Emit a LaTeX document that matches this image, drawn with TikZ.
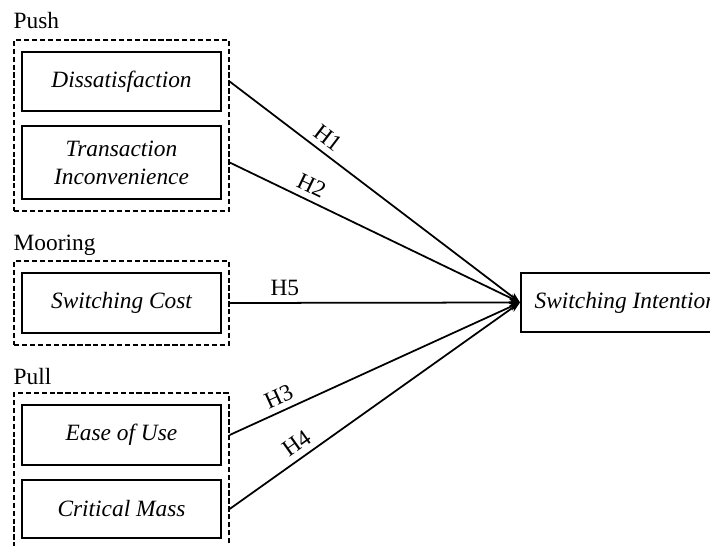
\documentclass[tikz,border=0pt]{standalone}
\usepackage{fontspec}
\setmainfont{Liberation Serif}
\usetikzlibrary{positioning, fit, arrows.meta}

\begin{document}
\begin{tikzpicture}[x=0.02cm, y=-0.02cm,
    every node/.style={font=\fontsize{13.3}{16}\selectfont},
    factor/.style={draw, line width=1pt, minimum width=3.98cm,
        align=center, font=\fontsize{13.3}{16}\selectfont\itshape},
    group/.style={draw, line width=0.9pt, dash pattern=on 3pt off 1.5pt,
        inner xsep=0.14cm, inner ysep=0.22cm},
    grouplabel/.style={anchor=base west, inner sep=0pt},
    link/.style={line width=1pt, -{Stealth[length=6pt, width=4.5pt]}},
    hyp/.style={sloped, above, inner sep=3.5pt},
]
\useasboundingbox (0,0) rectangle (710,546);

% =============================================================================
% Push factors
% =============================================================================
\node[factor, minimum height=1.18cm] (dis) at (121.5, 81.5) {Dissatisfaction};
\node[factor, minimum height=1.46cm] (trans) at (121.5, 162.5)
    {Transaction\\Inconvenience};
\node[group, fit=(dis)(trans)] (push) {};
\node[grouplabel] at ([yshift=0.22cm]push.north west) {Push};

% =============================================================================
% Mooring factor
% =============================================================================
\node[factor, minimum height=1.2cm] (cost) at (121.5, 303) {Switching Cost};
\node[group, fit=(cost)] (mooring) {};
\node[grouplabel] at ([yshift=0.2cm]mooring.north west) {Mooring};

% =============================================================================
% Pull factors
% =============================================================================
\node[factor, minimum height=1.2cm] (ease) at (121.5, 435) {Ease of Use};
\node[factor, minimum height=1.16cm] (mass) at (121.5, 509) {Critical Mass};
\node[group, fit=(ease)(mass)] (pull) {};
\node[grouplabel] at ([yshift=0.15cm]pull.north west) {Pull};

% =============================================================================
% Outcome and hypotheses
% =============================================================================
\node[factor, anchor=west, minimum width=4.2cm, minimum height=1.18cm]
    (intent) at (520, 302.5) {Switching Intention};

\draw[link] (dis.east -| push.east) -- node[hyp, pos=0.31] {H1} (intent.west);
\draw[link] (trans.east -| push.east) -- node[hyp, pos=0.26] {H2} (intent.west);
\draw[link] (cost.east -| mooring.east) -- node[hyp, pos=0.19] {H5} (intent.west);
\draw[link] (ease.east -| pull.east) -- node[hyp, pos=0.19] {H3} (intent.west);
\draw[link] (mass.east -| pull.east) -- node[hyp, pos=0.26] {H4} (intent.west);

\end{tikzpicture}
\end{document}
